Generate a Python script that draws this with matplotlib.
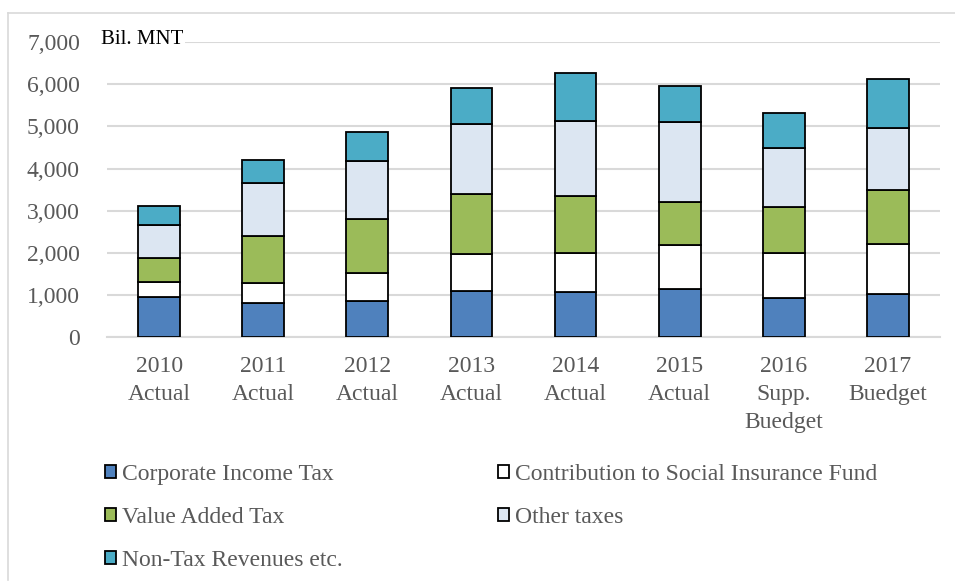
import matplotlib
matplotlib.use("Agg")
import matplotlib.pyplot as plt
import numpy as np
from matplotlib.lines import Line2D

plt.rcParams['font.family'] = ['Liberation Serif', 'DejaVu Serif']

categories = ["2010\nActual", "2011\nActual", "2012\nActual", "2013\nActual",
              "2014\nActual", "2015\nActual", "2016\nSupp.\nBuedget", "2017\nBuedget"]
corporate_income_tax = [950, 800, 850, 1100, 1080, 1150, 930, 1030]
social_insurance = [350, 490, 670, 860, 920, 1030, 1070, 1170]
value_added_tax = [570, 1110, 1290, 1430, 1360, 1020, 1080, 1280]
other_taxes = [790, 1250, 1370, 1660, 1780, 1900, 1410, 1480]
non_tax_revenues = [450, 550, 680, 870, 1120, 860, 840, 1180]
series_names = ["Corporate Income Tax", "Contribution to Social Insurance Fund",
                "Value Added Tax", "Other taxes", "Non-Tax Revenues etc."]
yticks = [0, 1000, 2000, 3000, 4000, 5000, 6000, 7000]

colors = ["#4f81bd", "#ffffff", "#9bbb59", "#dce6f2", "#4bacc6"]
series = [corporate_income_tax, social_insurance, value_added_tax, other_taxes, non_tax_revenues]

W, H = 955, 583
fig = plt.figure(figsize=(W / 100, H / 100), dpi=100)
ax = fig.add_axes([107 / W, 1 - 337 / H, (940 - 107) / W, (337 - 42.3) / H])

x = np.arange(len(categories))
bottom = np.zeros(len(categories))
handles = []
for vals, c, name in zip(series, colors, series_names):
    ax.bar(x, vals, bottom=bottom, width=0.4, color=c, edgecolor="black", linewidth=1.3, zorder=3)
    bottom += np.array(vals)
    handles.append(plt.Rectangle((0, 0), 1, 1, facecolor=c, edgecolor="black", linewidth=1.3))

ax.set_xlim(-0.5, len(categories) - 0.5)
ax.set_ylim(0, 7000)
ax.set_yticks(yticks)
ax.set_yticklabels([f"{v:,}" for v in yticks])
ax.set_xticks(x)
ax.set_xticklabels(categories, linespacing=1.42)
ax.tick_params(axis="both", length=0, labelsize=17, labelcolor="#595959")
ax.tick_params(axis="y", pad=19.5)
ax.tick_params(axis="x", pad=14)
ax.grid(axis="y", color="#d9d9d9", linewidth=1.5, zorder=0)
for s in ["top", "right", "left"]:
    ax.spines[s].set_visible(False)
ax.spines["bottom"].set_color("#d9d9d9")
ax.spines["bottom"].set_linewidth(1.5)

fig.text(101 / W, 1 - 40 / H, "Bil. MNT", fontsize=15, color="black", ha="left", va="center",
         bbox=dict(facecolor="white", edgecolor="none", pad=1), zorder=5)

order = [0, 2, 4, 1, 3]
leg = fig.legend([handles[i] for i in order], [series_names[i] for i in order],
                 ncol=2, loc="upper left", bbox_to_anchor=(105 / W, 1 - 464 / H),
                 frameon=False, fontsize=17, handlelength=0.45, handleheight=0.45,
                 handletextpad=0.25, columnspacing=6.6, labelspacing=0.93, borderaxespad=0,
                 borderpad=0)
for t in leg.get_texts():
    t.set_color("#595959")

# outer border
fig.add_artist(Line2D([8 / W, 8 / W], [1 - 580 / H, 1 - 13 / H], color="#d9d9d9", linewidth=1.2))
fig.add_artist(Line2D([8 / W, 1.0], [1 - 13 / H, 1 - 13 / H], color="#d9d9d9", linewidth=1.2))

fig.savefig("out.png", dpi=100)
